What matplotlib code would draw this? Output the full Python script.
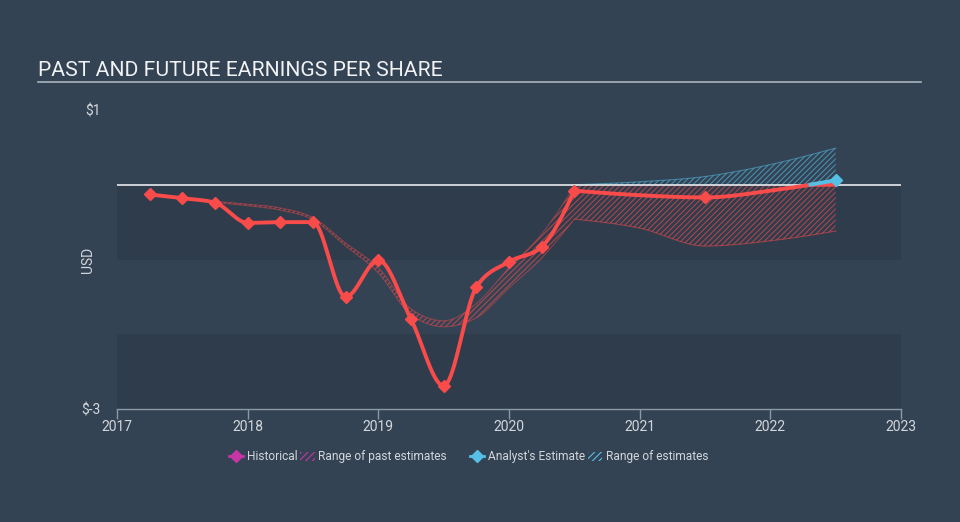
import matplotlib
matplotlib.use("Agg")
import matplotlib.pyplot as plt
from matplotlib.lines import Line2D
from matplotlib.patches import Patch
import numpy as np

plt.rcParams['font.family'] = ['Roboto', 'DejaVu Sans']
plt.rcParams['hatch.linewidth'] = 0.8

BG = "#344354"
DARK = "#2f3c4c"
RED = "#fa4b4b"
BLUE = "#55bfe6"
MAGENTA = "#c535a4"
GREY = "#d3d7dc"

# historical EPS (quarters, decimal year)
hist_x = [2017.25, 2017.5, 2017.75, 2018.0, 2018.25, 2018.5, 2018.75, 2019.0,
          2019.25, 2019.5, 2019.75, 2020.0, 2020.25, 2020.5]
hist_y = [-0.13, -0.18, -0.24, -0.51, -0.50, -0.50, -1.50, -1.01,
          -1.80, -2.69, -1.37, -1.03, -0.83, -0.08]

# range of past estimates
past_x = [2017.75, 2018.0, 2018.25, 2018.5, 2018.75, 2019.0, 2019.25, 2019.5,
          2019.75, 2020.0, 2020.25, 2020.5]
past_hi = [-0.22, -0.26, -0.31, -0.44, -0.78, -1.11, -1.66, -1.82,
           -1.59, -1.11, -0.66, -0.02]
past_lo = [-0.24, -0.28, -0.34, -0.47, -0.82, -1.18, -1.74, -1.90,
           -1.78, -1.38, -0.98, -0.46]

# analyst estimate and range
fut_x = [2020.5, 2021.0, 2021.5, 2022.0, 2022.5]
fut_y = [-0.08, -0.14, -0.17, -0.08, 0.06]
fut_hi = [0.00, 0.04, 0.11, 0.27, 0.49]
fut_lo = [-0.46, -0.58, -0.82, -0.75, -0.62]
fut_mark_x = [2021.5, 2022.5]
fut_mark_y = [-0.17, 0.06]

years = [2017, 2018, 2019, 2020, 2021, 2022, 2023]


def monotone(x, y, n=40):
    # monotone cubic (Steffen style, like d3 curveMonotoneX)
    x = np.asarray(x, float); y = np.asarray(y, float)
    h = np.diff(x); s = np.diff(y) / h
    m = np.zeros_like(y)
    for i in range(1, len(y) - 1):
        p = (s[i-1]*h[i] + s[i]*h[i-1]) / (h[i-1] + h[i])
        m[i] = (np.sign(s[i-1]) + np.sign(s[i])) * min(abs(s[i-1]), abs(s[i]), 0.5*abs(p))
    m[0] = (3*s[0] - m[1]) / 2 if len(y) > 2 else s[0]
    m[-1] = (3*s[-1] - m[-2]) / 2 if len(y) > 2 else s[-1]
    xs, ys = [], []
    for i in range(len(h)):
        t = np.linspace(0, 1, n)
        h00 = 2*t**3 - 3*t**2 + 1; h10 = t**3 - 2*t**2 + t
        h01 = -2*t**3 + 3*t**2; h11 = t**3 - t**2
        xs.append(x[i] + t*h[i])
        ys.append(h00*y[i] + h10*h[i]*m[i] + h01*y[i+1] + h11*h[i]*m[i+1])
    return np.concatenate(xs), np.concatenate(ys)


fig = plt.figure(figsize=(9.6, 5.22), dpi=100, facecolor=BG)
ax = fig.add_axes([117/960, 1-409/522, 784/960, 299/522])
ax.set_facecolor(BG)
ax.set_xlim(2017, 2023)
ax.set_ylim(-3, 1)

# background bands
for lo, hi, c in [(-1, 0, DARK), (-3, -2, DARK)]:
    ax.axhspan(lo, hi, color=c, lw=0, zorder=0)

# past estimate range
px, phi = monotone(past_x, past_hi)
_, plo = monotone(past_x, past_lo)
ax.fill_between(px, plo, phi, facecolor="none", edgecolor=(0.98, 0.3, 0.3, 0.6),
                hatch="//////", lw=0, zorder=2)
ax.plot(px, phi, color=RED, alpha=0.4, lw=0.8, zorder=2)
ax.plot(px, plo, color=RED, alpha=0.4, lw=0.8, zorder=2)

# future estimate range, split at zero
fx, fhi = monotone(fut_x, fut_hi)
_, flo = monotone(fut_x, fut_lo)
ax.fill_between(fx, np.maximum(flo, 0), np.maximum(fhi, 0), facecolor="none",
                edgecolor=(0.33, 0.75, 0.9, 0.6), hatch="//////", lw=0, zorder=2)
ax.fill_between(fx, np.minimum(flo, 0), np.minimum(fhi, 0), facecolor="none",
                edgecolor=(0.98, 0.3, 0.3, 0.6), hatch="//////", lw=0, zorder=2)
ax.plot(fx, fhi, color=BLUE, alpha=0.5, lw=0.8, zorder=2)
ax.plot(fx, flo, color=RED, alpha=0.5, lw=0.8, zorder=2)

# zero line
ax.axhline(0, color="#e8ebee", lw=1.2, zorder=3)

# historical line
hx, hy = monotone(hist_x, hist_y)
ax.plot(hx, hy, color=RED, lw=2.8, zorder=5, solid_capstyle="round")
ax.plot(hist_x, hist_y, ls="none", marker="D", ms=6.5, color=RED, zorder=6)

# analyst estimate line, red below zero and blue above
ex, ey = monotone(fut_x, fut_y)
ax.plot(ex, np.minimum(ey, 0), color=RED, lw=2.8, zorder=5)
above = ey >= 0
ax.plot(ex[above], ey[above], color=BLUE, lw=2.8, zorder=5)
ax.plot(fut_mark_x[:1], fut_mark_y[:1], ls="none", marker="D", ms=6.5, color=RED, zorder=6)
ax.plot(fut_mark_x[1:], fut_mark_y[1:], ls="none", marker="D", ms=6.5, color=BLUE, zorder=6)

# axes styling
for sp in ["top", "right", "left"]:
    ax.spines[sp].set_visible(False)
ax.spines["bottom"].set_color("#8e99a6")
ax.spines["bottom"].set_linewidth(1)
ax.set_xticks(years)
ax.set_xticklabels([str(y) for y in years])
ax.tick_params(axis="x", colors="#8e99a6", labelcolor=GREY, labelsize=10, length=7, width=1, pad=1)
ax.set_yticks([-3, 1])
ax.set_yticklabels(["$-3", "$1"])
ax.tick_params(axis="y", length=0, labelcolor=GREY, labelsize=10, pad=12)
ax.set_ylabel("USD", color=GREY, fontsize=10)
ax.yaxis.set_label_coords(-22/784, 0.5)

# title and rule
fig.text(38/960, 1-76/522, "PAST AND FUTURE EARNINGS PER SHARE", color="#f0f2f4",
         fontsize=15.2, va="baseline", ha="left")
fig.add_artist(Line2D([38/960, 921/960], [1-82/522, 1-82/522], color="#aab3bd", lw=1.2))

# legends
hatch_red = Patch(facecolor="none", edgecolor=MAGENTA, hatch="/////", lw=0)
hatch_blue = Patch(facecolor="none", edgecolor=BLUE, hatch="/////", lw=0)
h1 = [Line2D([], [], color=MAGENTA, marker="D", ms=6, lw=2), hatch_red]
h2 = [Line2D([], [], color=BLUE, marker="D", ms=6, lw=2), hatch_blue]
for hs, labs, cx in [(h1, ["Historical", "Range of past estimates"], 338/960),
                     (h2, ["Analyst's Estimate", "Range of estimates"], 589/960)]:
    lg = fig.legend(hs, labs, loc="center", bbox_to_anchor=(cx, 1-457/522), ncol=2,
                    frameon=False, fontsize=8.6, labelcolor=GREY, handlelength=1.2,
                    handletextpad=0.3, columnspacing=0.25, handleheight=0.8)

fig.savefig("out.png", dpi=100, facecolor=BG)
